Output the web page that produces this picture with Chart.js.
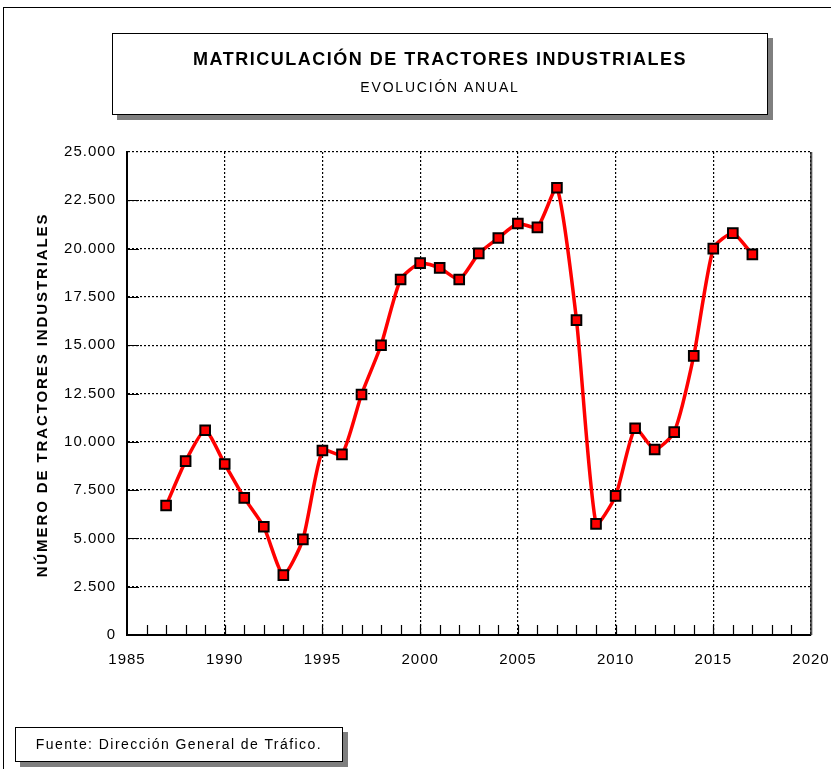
<!DOCTYPE html>
<html lang="es">
<head>
<meta charset="utf-8">
<title>Matriculación de tractores industriales</title>
<script src="https://cdn.jsdelivr.net/npm/chart.js@4/dist/chart.umd.min.js"></script>
<style>
  html, body { margin: 0; padding: 0; background: #fff; }
  body { width: 831px; height: 769px; position: relative; overflow: hidden; font-family: "Liberation Sans", Arial, sans-serif; }
  #frame { position: absolute; left: 3px; top: 7px; width: 900px; height: 900px; border-left: 1px solid #000; border-top: 1px solid #000; }
  #chart { position: absolute; left: 0; top: 0; }
  .box { position: absolute; background: #fff; border: 1.5px solid #000; box-shadow: 5px 5px 0 #7f7f7f; text-align: center; color: #000; }
  #titleBox { left: 112px; top: 33px; width: 654px; height: 80px; }
  #titleBox .t1 { font-weight: bold; font-size: 18px; line-height: 20px; margin-top: 15px; letter-spacing: 1.5px; }
  #titleBox .t2 { font-size: 14px; line-height: 16px; margin-top: 10px; letter-spacing: 1.8px; }
  #srcBox { left: 15px; top: 727px; width: 326px; height: 33px; font-size: 14px; line-height: 33px; letter-spacing: 1.45px; }
  #yTitle { position: absolute; left: 42px; top: 395px; width: 420px; margin-left: -210px; margin-top: -10px;
            height: 20px; line-height: 20px; text-align: center; transform: rotate(-90deg);
            font-weight: bold; font-size: 15px; letter-spacing: 1.9px; white-space: nowrap; }
</style>
</head>
<body>
<div id="frame"></div>
<canvas id="chart" width="831" height="769"></canvas>
<div id="titleBox" class="box">
  <div class="t1">MATRICULACIÓN DE TRACTORES INDUSTRIALES</div>
  <div class="t2">EVOLUCIÓN ANUAL</div>
</div>
<div id="yTitle">NÚMERO DE TRACTORES INDUSTRIALES</div>
<div id="srcBox" class="box">Fuente: Dirección General de Tráfico.</div>

<script>
// ---- data ----
const years = [1987, 1988, 1989, 1990, 1991, 1992, 1993, 1994, 1995, 1996,
               1997, 1998, 1999, 2000, 2001, 2002, 2003, 2004, 2005, 2006,
               2007, 2008, 2009, 2010, 2011, 2012, 2013, 2014, 2015, 2016, 2017];
const tractores = [6700, 9000, 10600, 8850, 7100, 5600, 3100, 4950, 9550, 9350,
                   12450, 15000, 18400, 19250, 19000, 18400, 19750, 20550, 21300, 21100,
                   23150, 16300, 5750, 7200, 10700, 9600, 10500, 14450, 20000, 20800, 19700];
const xMin = 1985, xMax = 2020, xStep = 5;
const yMin = 0, yMax = 25000, yStep = 2500;

const FONT = "'Liberation Sans', Arial, sans-serif";

function fmtMiles(v) {
    return String(v).replace(/\B(?=(\d{3})+(?!\d))/g, ".");
}

// wider letter spacing for the canvas labels
const spacing = {
    id: "spacing",
    beforeDraw(chart) {
        chart.ctx.letterSpacing = "1px";
    }
};

// small inward tick marks + solid right border, like the original spreadsheet chart
const tickMarks = {
    id: "tickMarks",
    afterDatasetsDraw(chart) {
        const { ctx, chartArea: a, scales: { x, y } } = chart;
        ctx.save();
        ctx.strokeStyle = "#000";
        ctx.lineWidth = 1.2;
        ctx.beginPath();
        for (let yr = xMin + 1; yr < xMax; yr++) {
            const px = Math.round(x.getPixelForValue(yr)) + 0.5;
            ctx.moveTo(px, a.bottom);
            ctx.lineTo(px, a.bottom - 10);
        }
        for (let v = yStep; v < yMax; v += yStep) {
            const py = Math.round(y.getPixelForValue(v)) + 0.5;
            ctx.moveTo(a.left, py);
            ctx.lineTo(a.left + 12, py);
        }
        ctx.stroke();
        // right border
        ctx.strokeStyle = "#222";
        ctx.lineWidth = 1.5;
        ctx.beginPath();
        ctx.moveTo(a.right, a.top);
        ctx.lineTo(a.right, a.bottom);
        ctx.stroke();
        ctx.strokeStyle = "#c8c8c8";
        ctx.lineWidth = 1;
        ctx.beginPath();
        ctx.moveTo(a.right + 1.5, a.top);
        ctx.lineTo(a.right + 1.5, a.bottom);
        ctx.stroke();
        ctx.restore();
    }
};

new Chart(document.getElementById("chart"), {
    type: "line",
    data: {
        datasets: [{
            data: years.map(function (yr, i) { return { x: yr, y: tractores[i] }; }),
            borderColor: "#ff0000",
            borderWidth: 3.5,
            tension: 0.2,
            pointStyle: "rect",
            pointRadius: 6.8,
            pointBorderWidth: 2,
            pointBackgroundColor: "#ff0000",
            pointBorderColor: "#000"
        }]
    },
    options: {
        responsive: false,
        animation: false,
        layout: { padding: { top: 152, right: 20, bottom: 0, left: 0 } },
        plugins: {
            legend: { display: false },
            tooltip: { enabled: false }
        },
        scales: {
            x: {
                type: "linear",
                min: xMin,
                max: xMax,
                afterFit: function (s) { s.height = 134; s.paddingRight = 0; s.paddingLeft = 0; },
                grid: { color: "#000", lineWidth: 1.2, drawTicks: false },
                border: { color: "#000", width: 2, dash: [2, 2] },
                ticks: {
                    stepSize: xStep,
                    padding: 16,
                    color: "#000",
                    font: { family: FONT, size: 15 },
                    callback: function (v) { return String(v); }
                }
            },
            y: {
                min: yMin,
                max: yMax,
                afterFit: function (s) { s.width = 127; s.paddingTop = 0; s.paddingBottom = 0; },
                grid: { color: "#000", lineWidth: 1.2, drawTicks: false },
                border: { color: "#000", width: 2, dash: [2, 2] },
                ticks: {
                    stepSize: yStep,
                    padding: 11,
                    color: "#000",
                    font: { family: FONT, size: 15 },
                    callback: function (v) { return fmtMiles(v); }
                }
            }
        }
    },
    plugins: [spacing, tickMarks]
});
</script>
</body>
</html>
